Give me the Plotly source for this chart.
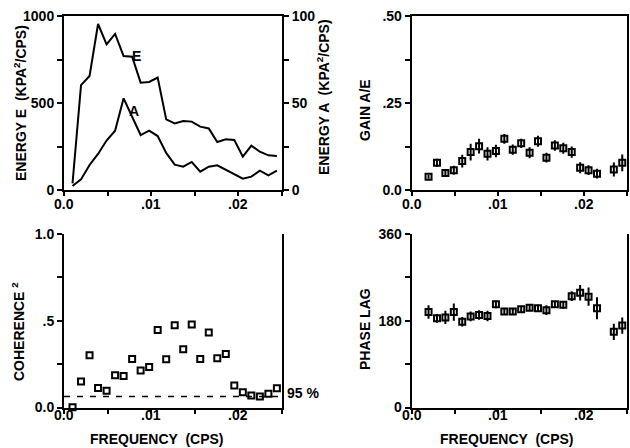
import plotly.graph_objects as go

# ---- data ----
freq = [0.000977, 0.001953, 0.002930, 0.003906, 0.004883, 0.005859, 0.006836,
        0.007813, 0.008789, 0.009766, 0.010742, 0.011719, 0.012695, 0.013672,
        0.014648, 0.015625, 0.016602, 0.017578, 0.018555, 0.019531, 0.020508,
        0.021484, 0.022461, 0.023438, 0.024414]
energy_E = [38, 603, 655, 954, 837, 897, 770, 766, 617, 621, 646, 406, 383,
            397, 393, 364, 354, 276, 291, 287, 192, 255, 220, 199, 195]
energy_A = [2.3, 6.1, 14.4, 20.7, 28.4, 34.1, 52.7, 42.5, 31.6, 34.1, 31.0,
            21.3, 14.6, 13.4, 16.1, 10.5, 13.4, 14.2, 11.5, 9.0, 6.5, 7.7,
            11.1, 8.4, 11.1]
coherence2 = [0.002, 0.150, 0.301, 0.113, 0.096, 0.186, 0.182, 0.280, 0.213,
              0.234, 0.447, 0.278, 0.474, 0.336, 0.478, 0.280, 0.432, 0.284,
              0.309, 0.127, 0.088, 0.069, 0.063, 0.079, 0.111]
coh95 = 0.063
gain = [None, 0.038, 0.078, 0.049, 0.057, 0.083, 0.109, 0.126, 0.104, 0.112,
        0.147, 0.116, 0.134, 0.107, 0.140, 0.093, 0.128, 0.120, 0.109, 0.064,
        0.057, 0.047, None, 0.059, 0.078]
gain_err = [None, 0.006, 0.012, 0.010, 0.013, 0.018, 0.024, 0.021, 0.019, 0.018,
            0.014, 0.015, 0.013, 0.016, 0.016, 0.014, 0.015, 0.016, 0.016, 0.016,
            0.014, 0.014, None, 0.020, 0.024]
phase = [None, 198, 185, 187, 198, 178, 189, 192, 190, 214, 199, 199, 204, 207,
         206, 202, 214, 213, 231, 238, 230, 206, None, 157, 170]
phase_err = [None, 14, 9, 14, 18, 10, 10, 10, 11, 8, 7, 7, 7, 7, 7, 10, 7, 8,
             10, 16, 19, 23, None, 17, 17]

x_ticks = [0, 0.005, 0.01, 0.015, 0.02, 0.025]
x_labels = ["0.0", "", ".01", "", ".02", ""]

W, H = 630, 448
OFF = 0  # page body margin removed by post_script
FONT = "Liberation Sans, Arial, sans-serif"
TF = dict(family=FONT, size=14, color="black", weight="bold")

def px(x):
    return (x - OFF) / W

def py(y):
    return 1 - (y - OFF) / H

fig = go.Figure()

fig.add_trace(go.Scatter(x=freq, y=energy_E, mode="lines",
                         line=dict(color="black", width=2),
                         xaxis="x", yaxis="y", showlegend=False))
fig.add_trace(go.Scatter(x=freq, y=energy_A, mode="lines",
                         line=dict(color="black", width=2),
                         xaxis="x", yaxis="y2", showlegend=False))

fig.add_trace(go.Scatter(x=freq, y=gain, mode="markers",
                         marker=dict(symbol="square-open", size=6, color="black",
                                     line=dict(width=2, color="black")),
                         error_y=dict(type="data", array=gain_err, color="black",
                                      thickness=2, width=0),
                         xaxis="x2", yaxis="y3", showlegend=False))

fig.add_trace(go.Scatter(x=[0, 0.025], y=[coh95, coh95], mode="lines",
                         line=dict(color="black", width=1.5, dash="6px,7px"),
                         xaxis="x3", yaxis="y4", showlegend=False))
fig.add_trace(go.Scatter(x=freq, y=coherence2, mode="markers",
                         marker=dict(symbol="square-open", size=6, color="black",
                                     line=dict(width=2, color="black")),
                         xaxis="x3", yaxis="y4", showlegend=False, cliponaxis=False))

fig.add_trace(go.Scatter(x=freq, y=phase, mode="markers",
                         marker=dict(symbol="square-open", size=6, color="black",
                                     line=dict(width=2, color="black")),
                         error_y=dict(type="data", array=phase_err, color="black",
                                      thickness=2, width=0),
                         xaxis="x4", yaxis="y5", showlegend=False))

L1, R1 = px(64), px(282)
L2, R2 = px(411.7), px(627.3)
T1, B1 = py(16), py(190)
T2, B2 = py(234), py(407.5)

def xax(domain, anchor, mirror):
    return dict(domain=domain, anchor=anchor, range=[0, 0.025], automargin=False,
                tickmode="array", tickvals=x_ticks, showticklabels=False,
                ticks="outside", ticklen=4, tickwidth=2, tickcolor="black",
                showline=True, linecolor="black", linewidth=2, mirror=mirror,
                showgrid=False, zeroline=False)

def yax(domain, anchor, rng, vals, texts, mirror, side="left", overlay=None):
    d = dict(domain=domain, anchor=anchor, range=rng, automargin=False,
             tickmode="array", tickvals=vals, ticktext=texts,
             ticks="outside", ticklen=5, tickwidth=2, tickcolor="black",
             showline=True, linecolor="black", linewidth=2, mirror=mirror,
             showgrid=False, zeroline=False, side=side,
             ticklabeloverflow="allow", tickfont=TF)
    if overlay:
        d["overlaying"] = overlay
    return d

layout = dict(
    width=W, height=H, margin=dict(l=0, r=0, t=0, b=0, autoexpand=False),
    paper_bgcolor="white", plot_bgcolor="white",
    font=dict(family=FONT, size=14, color="black"),
    xaxis=xax([L1, R1], "y", True),
    yaxis=yax([B1, T1], "x", [0, 1000], [0, 250, 500, 750, 1000],
              ["0", " ", "500", " ", "1000"], False),
    yaxis2=yax([B1, T1], "x", [0, 100], [0, 25, 50, 75, 100],
               ["0", " ", "50", " ", "100"], False, side="right", overlay="y"),
    xaxis2=xax([L2, R2], "y3", True),
    yaxis3=yax([B1, T1], "x2", [0, 0.5], [0, 0.125, 0.25, 0.375, 0.5],
               ["0.0", " ", ".25", " ", ".50"], True),
    xaxis3=xax([L1, R1], "y4", False),
    yaxis4=yax([B2, T2], "x3", [0, 1.0], [0, 0.25, 0.5, 0.75, 1.0],
               ["0.0", " ", ".5", " ", "1.0"], True),
    xaxis4=xax([L2, R2], "y5", False),
    yaxis5=yax([B2, T2], "x4", [0, 360], [0, 90, 180, 270, 360],
               ["0", " ", "180", " ", "360"], True),
)
fig.update_layout(**layout)

def ann(text, x, y, angle=0, xanchor="center", yanchor="middle", xref="paper"):
    fig.add_annotation(text=text, x=(x if xref != "paper" else px(x)), y=py(y),
                       xref=xref, yref="paper",
                       showarrow=False, textangle=angle, xanchor=xanchor,
                       yanchor=yanchor, font=TF)

# x tick labels, placed at the axis values
for xr, ylab in (("x", 204), ("x2", 204), ("x3", 415), ("x4", 415)):
    for v, lab in zip(x_ticks, x_labels):
        if lab:
            ann(lab, v, ylab, xref=xr)

ann("ENERGY E  (KPA<sup>2</sup>/CPS)", 20, 103, -90)
ann("ENERGY A  (KPA<sup>2</sup>/CPS)", 323, 97, -90)
ann("GAIN A/E", 365, 110, -90)
ann("COHERENCE <sup>2</sup>", 18, 332, -90)
ann("PHASE LAG", 365, 329, -90)
ann("FREQUENCY  (CPS)", 157, 439)
ann("FREQUENCY  (CPS)", 507, 439)
ann("E", 136, 56)
ann("A", 134, 111)
ann("95 %", 285, 393, xanchor="left")

fig.write_html("out.html",
               config={"displayModeBar": False},
               post_script="document.body.style.margin='0';"
                           "document.body.style.overflow='hidden';")
